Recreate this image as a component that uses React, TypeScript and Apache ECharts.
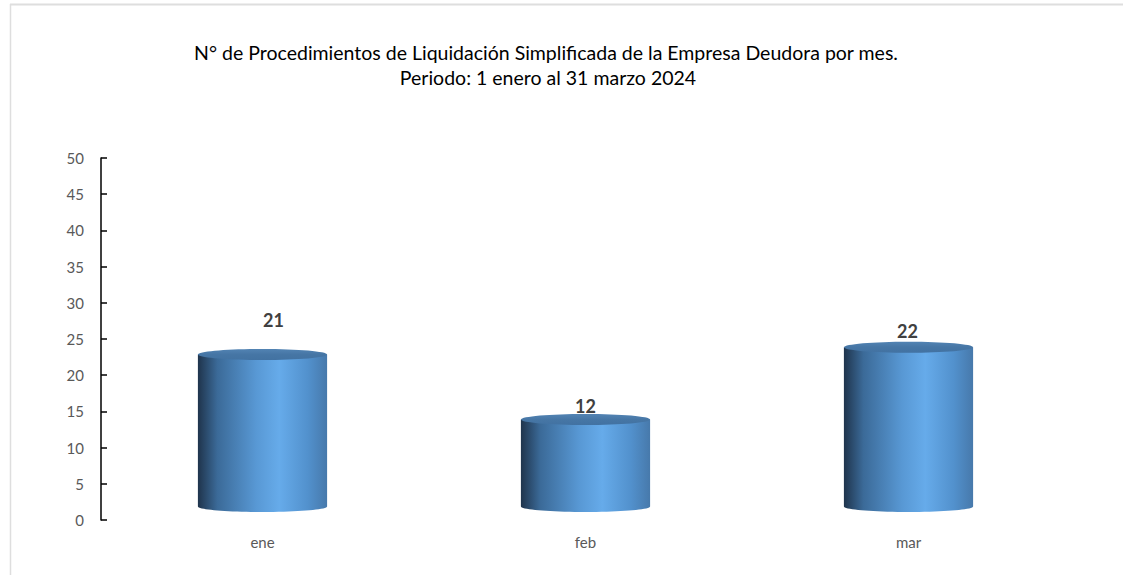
import React, { useEffect, useRef } from "react";
import * as echarts from "echarts";

const months = ["ene", "feb", "mar"];
const procedimientos = [21, 12, 22];
const yTicks = [0, 5, 10, 15, 20, 25, 30, 35, 40, 45, 50];
const titleLines = [
  "N° de Procedimientos de Liquidación Simplificada de la Empresa Deudora por mes.",
  "Periodo: 1 enero al 31 marzo 2024",
];

const FONT = "Lato, 'Open Sans', 'DejaVu Sans', sans-serif";

export default function App() {
  const ref = useRef<HTMLDivElement>(null);
  useEffect(() => {
    document.body.style.margin = "0";
    const chart = echarts.init(ref.current!, null, { renderer: "svg" });
    const bodyGradient = () =>
      new echarts.graphic.LinearGradient(0, 0, 1, 0, [
        { offset: 0, color: "#1f344c" },
        { offset: 0.15, color: "#3b6a98" },
        { offset: 0.45, color: "#5898d4" },
        { offset: 0.63, color: "#66abea" },
        { offset: 0.85, color: "#5291cd" },
        { offset: 1, color: "#4779ab" },
      ]);
    const depth = 13.5;
    const ry = 5.5;
    const labelNudge = [
      [11, -20],
      [0, 0],
      [-1, -2],
    ];
    chart.setOption({
      animation: false,
      backgroundColor: "#ffffff",
      textStyle: { fontFamily: FONT },
      grid: { left: 101, right: 53, top: 158, bottom: 55, containLabel: false },
      xAxis: {
        type: "category",
        data: months,
        axisLine: { show: false },
        axisTick: { show: false },
        axisLabel: { color: "#595959", fontSize: 15, margin: 14, fontFamily: FONT },
      },
      yAxis: {
        type: "value",
        min: yTicks[0],
        max: yTicks[yTicks.length - 1],
        interval: yTicks[1] - yTicks[0],
        splitLine: { show: false },
        axisLine: { show: true, lineStyle: { color: "#000000", width: 1.5 } },
        axisTick: { show: true, inside: true, length: 6, lineStyle: { color: "#000000", width: 1.5 } },
        axisLabel: { color: "#595959", fontSize: 15, margin: 17, fontFamily: FONT },
      },
      graphic: [
        {
          type: "line",
          shape: { x1: 10, y1: 4.5, x2: 1123, y2: 4.5 },
          style: { stroke: "#dedede", lineWidth: 2 },
          silent: true,
        },
        {
          type: "line",
          shape: { x1: 10.5, y1: 4, x2: 10.5, y2: 575 },
          style: { stroke: "#dedede", lineWidth: 1.5 },
          silent: true,
        },
        {
          type: "text",
          x: 546,
          y: 52,
          style: {
            text: titleLines[0],
            font: `19.5px ${FONT}`,
            fill: "#000000",
            align: "center",
            verticalAlign: "middle",
          },
        },
        {
          type: "text",
          x: 548,
          y: 77,
          style: {
            text: titleLines[1],
            font: `19.5px ${FONT}`,
            fill: "#000000",
            align: "center",
            verticalAlign: "middle",
          },
        },
      ],
      series: [
        {
          type: "custom",
          data: procedimientos.map((v, i) => [i, v]),
          renderItem: (params: any, api: any) => {
            const idx = api.value(0);
            const val = api.value(1);
            const top = api.coord([idx, val]);
            const base = api.coord([idx, 0]);
            const band = api.size([1, 0])[0];
            const w = band * 0.4;
            const cx = top[0];
            const x0 = cx - w / 2;
            const yTop = top[1] - depth;
            const yBase = base[1] - depth;
            const nudge = labelNudge[params.dataIndex] || [0, 0];
            return {
              type: "group",
              children: [
                {
                  type: "ellipse",
                  shape: { cx, cy: yBase, rx: w / 2, ry },
                  style: { fill: bodyGradient() },
                },
                {
                  type: "rect",
                  shape: { x: x0, y: yTop, width: w, height: yBase - yTop },
                  style: { fill: bodyGradient() },
                },
                {
                  type: "ellipse",
                  shape: { cx, cy: yTop, rx: w / 2, ry },
                  style: {
                    fill: new echarts.graphic.LinearGradient(0, 0, 0, 1, [
                      { offset: 0, color: "#5283b3" },
                      { offset: 0.5, color: "#4676a5" },
                      { offset: 1, color: "#4272a2" },
                    ]),
                  },
                },
                {
                  type: "text",
                  x: cx + nudge[0],
                  y: yTop - 14 + nudge[1],
                  style: {
                    text: String(val),
                    font: `bold 18px ${FONT}`,
                    fill: "#404040",
                    align: "center",
                    verticalAlign: "middle",
                  },
                },
              ],
            };
          },
        },
      ],
    });
    return () => chart.dispose();
  }, []);
  return <div ref={ref} style={{ width: 1123, height: 575 }} />;
}
